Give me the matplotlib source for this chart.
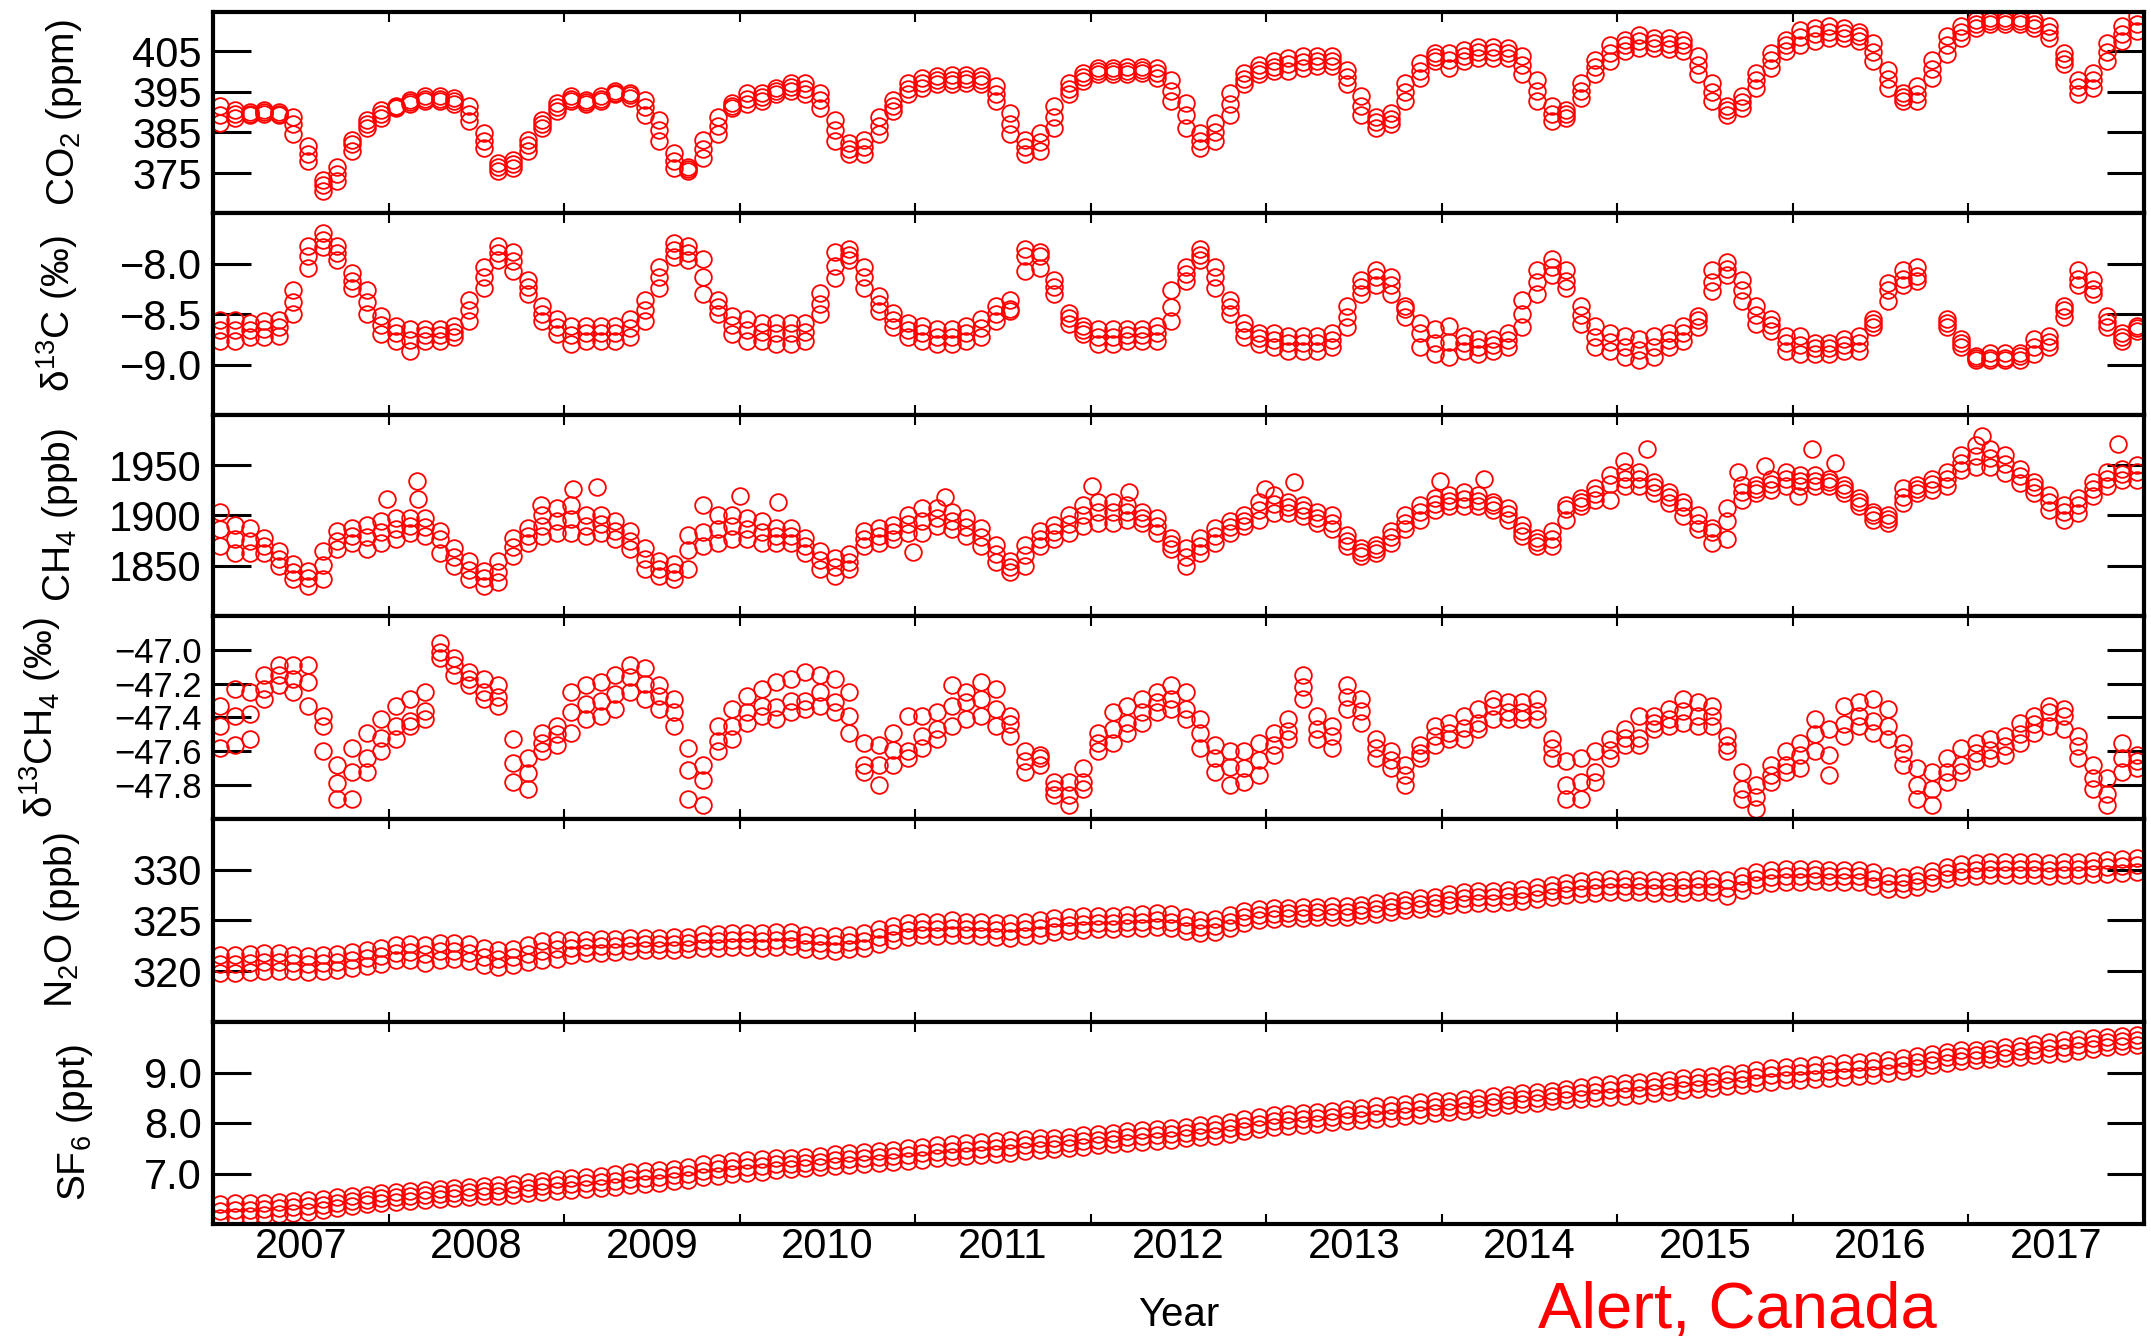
import numpy as np
import matplotlib
matplotlib.use("Agg")
import matplotlib.pyplot as plt
from matplotlib.ticker import FuncFormatter

plt.rcParams["font.family"] = ["Liberation Sans", "DejaVu Sans"]
plt.rcParams["mathtext.fontset"] = "custom"
plt.rcParams["mathtext.rm"] = "Liberation Sans"
plt.rcParams["mathtext.it"] = "Liberation Sans:italic"

# monthly readings, Jan 2007 .. Dec 2017 (upper edge / middle / lower edge of the point cloud)
years = np.arange(2007, 2018)
t = (years[:, None] + (np.arange(12) + 0.5) / 12).ravel()

co2_hi = [391.4, 390.6, 390.0, 390.4, 389.9, 388.9, 381.6, 373.4, 376.6, 383.2, 388.1, 390.6,
          391.5, 393.0, 393.9, 393.9, 393.4, 391.4, 384.8, 377.5, 378.3, 383.2, 388.1, 392.2,
          393.9, 393.0, 393.9, 395.1, 394.7, 393.0, 388.1, 379.9, 376.6, 383.2, 388.9, 392.2,
          394.7, 394.7, 395.9, 397.1, 397.1, 394.7, 388.1, 382.4, 383.2, 388.9, 393.0, 397.1,
          398.4, 398.8, 399.2, 399.2, 398.8, 396.3, 389.8, 383.2, 384.8, 391.4, 397.1, 399.6,
          400.8, 400.8, 401.2, 401.2, 400.8, 398.0, 392.2, 384.8, 387.3, 394.7, 399.6, 401.6,
          402.5, 403.3, 403.7, 403.7, 403.7, 400.4, 393.9, 388.9, 389.8, 397.1, 402.0, 404.5,
          404.5, 405.3, 406.1, 406.1, 405.7, 403.7, 398.0, 391.4, 390.6, 397.1, 402.9, 406.6,
          407.8, 409.0, 408.2, 408.2, 407.8, 403.7, 397.1, 391.4, 393.9, 399.6, 404.5, 407.8,
          410.2, 410.7, 411.1, 410.7, 409.8, 407.0, 400.4, 394.7, 396.3, 402.9, 408.6, 411.1,
          412.7, 413.1, 413.1, 413.1, 412.7, 411.1, 404.5, 398.0, 399.6, 407.0, 411.1, 413.5]
co2_mid = [389.4, 389.6, 389.6, 390.0, 389.6, 387.1, 379.8, 372.0, 374.8, 382.2, 387.1, 389.6,
           391.2, 392.5, 393.3, 393.3, 392.7, 389.6, 383.0, 376.5, 377.3, 381.8, 387.1, 391.2,
           393.3, 392.5, 393.3, 394.7, 394.1, 391.2, 385.5, 378.1, 376.1, 381.0, 386.7, 391.6,
           393.3, 393.7, 395.2, 396.1, 395.7, 392.9, 385.5, 381.0, 381.4, 386.7, 391.6, 395.7,
           397.1, 397.8, 398.0, 398.2, 397.8, 394.5, 387.1, 381.4, 382.6, 388.8, 395.7, 398.6,
           400.1, 400.1, 400.2, 400.4, 399.6, 395.3, 389.2, 383.0, 385.1, 392.0, 398.2, 400.4,
           401.2, 401.7, 402.3, 402.5, 402.5, 398.6, 391.6, 387.5, 388.4, 394.9, 400.2, 403.5,
           402.7, 403.9, 404.8, 404.8, 404.6, 401.5, 395.3, 389.6, 389.6, 395.3, 401.1, 404.5,
           406.4, 407.5, 407.0, 406.8, 406.4, 401.5, 394.9, 390.4, 392.5, 397.8, 402.7, 406.4,
           408.4, 409.1, 409.7, 409.4, 408.6, 404.8, 398.2, 393.7, 394.5, 400.7, 406.4, 409.7,
           411.7, 412.4, 412.4, 412.4, 411.7, 409.7, 403.1, 396.1, 397.8, 404.8, 409.3, 411.7]
co2_lo = [387.4, 388.6, 389.2, 389.6, 389.3, 384.5, 378.0, 370.6, 373.0, 380.4, 386.1, 388.6,
          390.9, 391.9, 392.7, 392.7, 391.9, 387.8, 381.2, 375.5, 376.3, 380.4, 386.1, 390.3,
          392.7, 391.9, 392.7, 394.4, 393.5, 389.4, 382.9, 376.3, 375.5, 378.8, 384.5, 391.1,
          391.9, 392.7, 394.4, 395.2, 394.4, 391.1, 382.9, 379.6, 379.6, 384.5, 390.3, 394.4,
          396.0, 396.8, 396.8, 397.2, 396.8, 392.7, 384.5, 379.6, 380.4, 386.1, 394.4, 397.6,
          399.3, 399.3, 399.3, 399.7, 398.4, 392.7, 386.1, 381.2, 382.9, 389.4, 396.8, 399.3,
          400.1, 400.1, 400.9, 401.3, 401.3, 396.8, 389.4, 386.1, 387.0, 392.7, 398.4, 402.5,
          400.9, 402.5, 403.4, 403.4, 403.4, 399.3, 392.7, 387.8, 388.6, 393.5, 399.3, 402.5,
          405.0, 405.8, 405.8, 405.4, 405.0, 399.3, 392.7, 389.4, 391.1, 396.0, 400.9, 405.0,
          406.6, 407.5, 408.3, 408.3, 407.5, 402.5, 396.0, 392.7, 392.7, 398.4, 404.2, 408.3,
          410.7, 411.6, 411.6, 411.6, 410.7, 408.3, 401.7, 394.4, 396.0, 402.5, 407.5, 409.9]

d13c_hi = [-8.56, -8.56, -8.59, -8.57, -8.56, -8.26, -7.83, -7.70, -7.83, -8.09, -8.26, -8.52,
           -8.62, -8.65, -8.65, -8.65, -8.62, -8.36, -8.03, -7.83, -7.89, -8.16, -8.42, -8.55,
           -8.62, -8.62, -8.62, -8.62, -8.55, -8.36, -8.03, -7.80, -7.83, -7.96, -8.36, -8.52,
           -8.55, -8.59, -8.59, -8.59, -8.59, -8.29, -7.89, -7.86, -8.03, -8.32, -8.49, -8.59,
           -8.62, -8.65, -8.65, -8.62, -8.55, -8.42, -8.36, -7.86, -7.89, -8.16, -8.49, -8.62,
           -8.65, -8.65, -8.65, -8.65, -8.62, -8.26, -8.03, -7.86, -8.03, -8.36, -8.59, -8.69,
           -8.69, -8.72, -8.72, -8.72, -8.69, -8.42, -8.16, -8.06, -8.13, -8.42, -8.59, -8.65,
           -8.62, -8.72, -8.75, -8.75, -8.69, -8.36, -8.06, -7.96, -8.06, -8.42, -8.62, -8.69,
           -8.72, -8.75, -8.72, -8.69, -8.62, -8.52, -8.06, -7.99, -8.16, -8.42, -8.55, -8.72,
           -8.72, -8.79, -8.79, -8.75, -8.72, -8.55, -8.19, -8.06, -8.03, np.nan, -8.55, -8.75,
           -8.92, -8.89, -8.89, -8.89, -8.75, -8.72, -8.42, -8.06, -8.16, -8.52, -8.69, -8.62]
d13c_mid = [-8.66, -8.66, -8.66, -8.65, -8.63, -8.38, -7.93, -7.77, -7.90, -8.17, -8.38, -8.61,
            -8.69, -8.76, -8.71, -8.71, -8.68, -8.46, -8.13, -7.90, -7.98, -8.23, -8.50, -8.63,
            -8.71, -8.69, -8.69, -8.69, -8.64, -8.46, -8.13, -7.87, -7.90, -8.13, -8.43, -8.61,
            -8.66, -8.68, -8.69, -8.69, -8.68, -8.40, -8.02, -7.92, -8.13, -8.40, -8.56, -8.66,
            -8.69, -8.73, -8.73, -8.69, -8.64, -8.50, -8.45, -7.93, -7.93, -8.23, -8.54, -8.66,
            -8.73, -8.73, -8.71, -8.71, -8.69, -8.43, -8.10, -7.92, -8.13, -8.43, -8.66, -8.74,
            -8.76, -8.79, -8.79, -8.79, -8.76, -8.53, -8.23, -8.13, -8.21, -8.45, -8.69, -8.79,
            -8.78, -8.79, -8.83, -8.81, -8.76, -8.50, -8.18, -8.03, -8.17, -8.51, -8.73, -8.78,
            -8.83, -8.86, -8.83, -8.76, -8.69, -8.56, -8.18, -8.05, -8.26, -8.51, -8.61, -8.79,
            -8.81, -8.84, -8.84, -8.81, -8.79, -8.59, -8.26, -8.15, -8.12, np.nan, -8.59, -8.79,
            -8.94, -8.94, -8.94, -8.92, -8.83, -8.78, -8.46, -8.15, -8.25, -8.58, -8.73, -8.64]
d13c_lo = [-8.77, -8.77, -8.73, -8.73, -8.72, -8.50, -8.04, -7.84, -7.97, -8.24, -8.50, -8.70,
           -8.77, -8.87, -8.77, -8.77, -8.73, -8.57, -8.24, -7.97, -8.07, -8.30, -8.57, -8.70,
           -8.80, -8.77, -8.77, -8.77, -8.73, -8.57, -8.24, -7.94, -7.97, -8.30, -8.50, -8.70,
           -8.77, -8.77, -8.80, -8.80, -8.77, -8.50, -8.14, -7.97, -8.24, -8.47, -8.63, -8.73,
           -8.77, -8.80, -8.80, -8.77, -8.73, -8.57, -8.47, -8.07, -8.04, -8.30, -8.60, -8.70,
           -8.80, -8.80, -8.77, -8.77, -8.77, -8.57, -8.17, -7.97, -8.24, -8.50, -8.73, -8.80,
           -8.83, -8.87, -8.87, -8.87, -8.83, -8.63, -8.30, -8.21, -8.30, -8.53, -8.83, -8.90,
           -8.93, -8.87, -8.90, -8.87, -8.83, -8.63, -8.30, -8.11, -8.24, -8.60, -8.83, -8.87,
           -8.93, -8.96, -8.93, -8.83, -8.77, -8.63, -8.27, -8.11, -8.37, -8.60, -8.67, -8.87,
           -8.90, -8.90, -8.90, -8.87, -8.87, -8.63, -8.37, -8.21, -8.17, np.nan, -8.63, -8.83,
           -8.96, -8.96, -8.96, -8.96, -8.90, -8.83, -8.53, -8.21, -8.30, -8.63, -8.77, -8.67]

ch4_hi = [1903.9, 1890.8, 1887.5, 1877.6, 1864.5, 1851.3, 1844.7, 1864.5, 1884.2, 1887.5, 1890.8, 1894.1,
          1897.3, 1897.3, 1897.3, 1884.2, 1867.8, 1854.6, 1844.7, 1854.6, 1877.6, 1887.5, 1900.6, 1907.2,
          1910.5, 1900.6, 1900.6, 1894.1, 1884.2, 1867.8, 1854.6, 1851.3, 1880.9, 1910.5, 1900.6, 1900.6,
          1897.3, 1894.1, 1887.5, 1887.5, 1877.6, 1864.5, 1857.9, 1861.2, 1884.2, 1887.5, 1890.8, 1900.6,
          1907.2, 1907.2, 1903.9, 1897.3, 1887.5, 1871.0, 1854.6, 1871.0, 1884.2, 1890.8, 1900.6, 1910.5,
          1913.8, 1913.8, 1910.5, 1903.9, 1897.3, 1877.6, 1867.8, 1877.6, 1887.5, 1894.1, 1900.6, 1913.8,
          1920.4, 1913.8, 1910.5, 1903.9, 1900.6, 1880.9, 1867.8, 1871.0, 1884.2, 1900.6, 1910.5, 1917.1,
          1920.4, 1923.7, 1920.4, 1913.8, 1907.2, 1890.8, 1877.6, 1884.2, 1910.5, 1917.1, 1927.0, 1940.1,
          1943.4, 1943.4, 1933.5, 1923.7, 1913.8, 1900.6, 1887.5, 1907.2, 1930.2, 1930.2, 1936.8, 1943.4,
          1940.1, 1940.1, 1936.8, 1930.2, 1917.1, 1903.9, 1900.6, 1927.0, 1930.2, 1936.8, 1943.4, 1959.9,
          1969.7, 1966.4, 1959.9, 1946.7, 1933.5, 1920.4, 1910.5, 1917.1, 1933.5, 1943.4, 1946.7, 1950.0]
ch4_mid = [1887.0, 1877.0, 1875.0, 1870.0, 1857.0, 1844.0, 1837.5, 1851.0, 1875.0, 1880.0, 1879.0, 1883.5,
           1887.0, 1890.0, 1888.5, 1877.0, 1859.0, 1845.7, 1837.5, 1844.0, 1868.8, 1880.0, 1890.0, 1895.0,
           1896.7, 1890.0, 1891.8, 1885.0, 1875.0, 1857.0, 1847.0, 1844.0, 1865.5, 1883.5, 1887.0, 1890.0,
           1887.0, 1883.5, 1880.0, 1880.0, 1870.0, 1855.6, 1849.0, 1854.0, 1877.0, 1880.0, 1883.5, 1891.8,
           1895.0, 1898.0, 1895.0, 1888.5, 1878.6, 1862.0, 1849.0, 1860.5, 1877.0, 1883.5, 1891.8, 1900.0,
           1903.3, 1903.3, 1903.3, 1898.0, 1890.0, 1872.0, 1859.0, 1870.0, 1880.0, 1888.5, 1895.0, 1905.0,
           1911.5, 1908.0, 1905.0, 1898.0, 1893.0, 1875.0, 1864.0, 1867.0, 1878.6, 1893.0, 1903.3, 1911.5,
           1914.8, 1916.4, 1914.8, 1910.0, 1901.6, 1885.0, 1873.7, 1877.0, 1906.6, 1913.0, 1921.0, 1931.0,
           1936.0, 1936.0, 1928.0, 1918.0, 1908.0, 1893.0, 1883.5, 1895.0, 1923.0, 1926.0, 1931.0, 1936.0,
           1934.5, 1934.5, 1933.0, 1926.0, 1913.0, 1900.0, 1896.7, 1918.0, 1926.0, 1931.0, 1936.0, 1952.6,
           1959.0, 1957.6, 1951.0, 1939.5, 1928.0, 1913.0, 1903.3, 1910.0, 1926.0, 1936.0, 1941.0, 1943.0]
ch4_lo = [1869.7, 1863.1, 1863.1, 1863.1, 1850.0, 1836.8, 1830.3, 1836.8, 1866.4, 1873.0, 1866.4, 1873.0,
          1876.3, 1882.9, 1879.6, 1863.1, 1850.0, 1836.8, 1830.3, 1833.5, 1859.9, 1873.0, 1879.6, 1883.0,
          1883.0, 1879.6, 1883.0, 1876.3, 1866.4, 1846.7, 1840.1, 1836.8, 1846.7, 1869.7, 1873.0, 1876.3,
          1876.3, 1873.0, 1873.0, 1873.0, 1863.1, 1846.7, 1840.1, 1846.7, 1869.7, 1873.0, 1876.3, 1883.0,
          1883.0, 1889.5, 1886.2, 1879.6, 1869.7, 1853.3, 1843.4, 1850.0, 1869.7, 1876.3, 1883.0, 1889.5,
          1892.8, 1892.8, 1896.0, 1892.8, 1883.0, 1866.4, 1850.0, 1863.1, 1873.0, 1883.0, 1889.5, 1896.0,
          1902.6, 1902.6, 1899.3, 1892.8, 1886.2, 1869.7, 1859.9, 1863.1, 1873.0, 1886.2, 1896.0, 1905.9,
          1909.2, 1909.2, 1909.2, 1905.9, 1896.0, 1879.6, 1869.7, 1869.7, 1896.0, 1909.2, 1915.8, 1915.8,
          1928.9, 1928.9, 1922.4, 1912.5, 1899.3, 1886.2, 1873.0, 1876.3, 1915.8, 1922.4, 1925.7, 1928.9,
          1928.9, 1928.9, 1928.9, 1922.4, 1909.2, 1896.0, 1892.8, 1912.5, 1922.4, 1925.7, 1928.9, 1945.4,
          1948.7, 1948.7, 1942.1, 1932.2, 1922.4, 1905.9, 1896.0, 1902.6, 1919.1, 1928.9, 1935.5, 1935.5]
# isolated CH4 points away from the main cloud
ch4_out_t = [2007.99, 2008.16, 2008.17, 2008.87, 2009.05, 2009.19, 2010.00, 2010.22, 2010.99,
             2011.17, 2012.01, 2012.22, 2012.99, 2013.16, 2013.99, 2014.24, 2015.04, 2015.17,
             2015.69, 2015.84, 2016.03, 2016.11, 2016.24, 2017.08, 2017.85]
ch4_out = [1916.4, 1934.5, 1916.0, 1910.0, 1926.3, 1928.0, 1919.7, 1913.0, 1863.8,
           1918.0, 1929.6, 1923.0, 1926.0, 1933.0, 1934.5, 1936.0, 1954.0, 1965.8,
           1942.8, 1949.0, 1919.7, 1965.8, 1952.6, 1979.0, 1970.7]

d13ch4_hi = [-47.33, -47.23, -47.25, -47.15, -47.09, -47.09, -47.09, -47.39, -47.68, -47.58, -47.49, -47.41,
             -47.33, -47.29, -47.25, -46.96, -47.05, -47.13, -47.17, -47.21, -47.53, -47.64, -47.49, -47.45,
             -47.25, -47.21, -47.19, -47.15, -47.09, -47.11, -47.21, -47.29, -47.58, -47.68, -47.45, -47.35,
             -47.27, -47.23, -47.19, -47.17, -47.13, -47.15, -47.17, -47.25, -47.55, -47.56, -47.49, -47.39,
             -47.39, -47.37, -47.21, -47.25, -47.19, -47.23, -47.39, -47.60, -47.62, -47.78, -47.78, -47.70,
             -47.49, -47.37, -47.33, -47.29, -47.25, -47.21, -47.25, -47.41, -47.56, -47.60, -47.60, -47.55,
             -47.49, -47.41, -47.15, -47.39, -47.45, -47.21, -47.29, -47.53, -47.60, -47.68, -47.56, -47.45,
             -47.43, -47.39, -47.35, -47.29, -47.31, -47.31, -47.29, -47.53, -47.66, -47.64, -47.60, -47.53,
             -47.47, -47.39, -47.39, -47.35, -47.29, -47.31, -47.33, -47.51, -47.72, -47.80, -47.68, -47.60,
             -47.55, -47.41, -47.47, -47.33, -47.31, -47.29, -47.35, -47.55, -47.70, -47.72, -47.64, -47.58,
             -47.55, -47.53, -47.51, -47.43, -47.39, -47.33, -47.35, -47.51, -47.68, -47.76, -47.55, -47.62]
d13ch4_mid = [-47.45, -47.39, -47.38, -47.23, -47.15, -47.17, -47.19, -47.45, -47.79, -47.72, -47.64, -47.52,
              -47.45, -47.42, -47.36, -47.01, -47.09, -47.17, -47.25, -47.28, -47.67, -47.73, -47.55, -47.50,
              -47.37, -47.32, -47.30, -47.26, -47.16, -47.20, -47.27, -47.37, -47.71, -47.77, -47.54, -47.45,
              -47.37, -47.33, -47.34, -47.30, -47.30, -47.25, -47.31, -47.39, -47.68, -47.68, -47.59, -47.60,
              -47.51, -47.47, -47.33, -47.31, -47.29, -47.35, -47.44, -47.66, -47.64, -47.82, -47.86, -47.78,
              -47.55, -47.47, -47.43, -47.37, -47.31, -47.29, -47.35, -47.49, -47.64, -47.69, -47.70, -47.65,
              -47.56, -47.48, -47.22, -47.47, -47.51, -47.28, -47.36, -47.58, -47.65, -47.74, -47.61, -47.51,
              -47.49, -47.46, -47.43, -47.33, -47.37, -47.37, -47.36, -47.58, -47.80, -47.78, -47.72, -47.59,
              -47.52, -47.52, -47.43, -47.41, -47.36, -47.39, -47.39, -47.56, -47.82, -47.87, -47.74, -47.68,
              -47.62, -47.50, -47.62, -47.44, -47.39, -47.42, -47.45, -47.61, -47.80, -47.82, -47.72, -47.68,
              -47.61, -47.59, -47.57, -47.50, -47.44, -47.37, -47.39, -47.57, -47.76, -47.85, -47.64, -47.66]
d13ch4_lo = [-47.58, -47.56, -47.53, -47.29, -47.21, -47.25, -47.33, -47.60, -47.88, -47.88, -47.72, -47.60,
             -47.53, -47.45, -47.41, -47.05, -47.15, -47.21, -47.29, -47.33, -47.78, -47.82, -47.60, -47.56,
             -47.49, -47.41, -47.39, -47.35, -47.25, -47.29, -47.35, -47.45, -47.88, -47.92, -47.60, -47.53,
             -47.43, -47.39, -47.41, -47.37, -47.35, -47.33, -47.37, -47.49, -47.72, -47.80, -47.68, -47.64,
             -47.58, -47.53, -47.45, -47.41, -47.39, -47.45, -47.51, -47.72, -47.68, -47.86, -47.92, -47.82,
             -47.60, -47.55, -47.49, -47.43, -47.37, -47.35, -47.41, -47.58, -47.72, -47.80, -47.78, -47.74,
             -47.62, -47.53, -47.29, -47.53, -47.58, -47.35, -47.43, -47.64, -47.70, -47.80, -47.64, -47.56,
             -47.53, -47.53, -47.47, -47.41, -47.41, -47.41, -47.41, -47.64, -47.88, -47.88, -47.78, -47.64,
             -47.56, -47.56, -47.47, -47.45, -47.43, -47.45, -47.45, -47.60, -47.88, -47.94, -47.78, -47.72,
             -47.70, -47.60, -47.74, -47.51, -47.45, -47.49, -47.53, -47.68, -47.88, -47.92, -47.78, -47.72,
             -47.66, -47.64, -47.62, -47.55, -47.49, -47.45, -47.47, -47.64, -47.82, -47.92, -47.72, -47.70]

n2o_hi = [321.6, 321.6, 321.7, 321.8, 321.8, 321.6, 321.5, 321.6, 321.7, 321.9, 322.1, 322.3,
          322.6, 322.7, 322.6, 322.8, 322.8, 322.7, 322.3, 322.1, 322.2, 322.6, 323.0, 323.1,
          323.1, 323.1, 323.2, 323.2, 323.3, 323.3, 323.3, 323.4, 323.4, 323.7, 323.7, 323.8,
          323.8, 323.8, 323.9, 323.9, 323.6, 323.5, 323.5, 323.6, 323.8, 324.2, 324.5, 324.8,
          324.9, 324.9, 325.0, 324.9, 324.9, 324.8, 324.8, 324.9, 325.0, 325.2, 325.3, 325.4,
          325.4, 325.4, 325.5, 325.6, 325.7, 325.6, 325.3, 325.0, 325.1, 325.5, 325.9, 326.1,
          326.2, 326.2, 326.3, 326.3, 326.4, 326.4, 326.5, 326.7, 326.9, 327.0, 327.2, 327.3,
          327.6, 327.8, 327.9, 327.9, 328.0, 328.1, 328.3, 328.5, 328.7, 328.9, 329.0, 329.1,
          329.1, 329.0, 329.0, 328.9, 329.0, 329.1, 329.1, 329.0, 329.4, 329.8, 330.0, 330.1,
          330.1, 330.1, 330.0, 330.0, 330.0, 329.8, 329.4, 329.3, 329.5, 329.9, 330.3, 330.6,
          330.7, 330.8, 330.8, 330.8, 330.8, 330.7, 330.8, 330.8, 330.9, 331.0, 331.1, 331.2]
n2o_mid = [320.7, 320.7, 320.8, 320.9, 320.9, 320.8, 320.7, 320.8, 320.9, 321.1, 321.3, 321.5,
           321.8, 321.9, 321.7, 322.0, 322.0, 321.8, 321.4, 321.2, 321.4, 321.7, 322.0, 322.2,
           322.3, 322.4, 322.5, 322.5, 322.6, 322.7, 322.7, 322.7, 322.8, 323.0, 323.0, 323.1,
           323.1, 323.0, 323.1, 323.2, 322.9, 322.8, 322.7, 322.9, 323.0, 323.4, 323.8, 324.1,
           324.2, 324.2, 324.3, 324.2, 324.2, 324.1, 324.0, 324.2, 324.3, 324.5, 324.6, 324.7,
           324.8, 324.8, 324.9, 324.9, 325.0, 324.9, 324.6, 324.4, 324.5, 324.9, 325.3, 325.5,
           325.6, 325.7, 325.7, 325.8, 325.8, 325.8, 326.0, 326.1, 326.3, 326.5, 326.6, 326.7,
           327.0, 327.2, 327.3, 327.3, 327.4, 327.5, 327.7, 327.9, 328.1, 328.2, 328.3, 328.4,
           328.4, 328.4, 328.3, 328.3, 328.3, 328.4, 328.4, 328.2, 328.7, 329.1, 329.3, 329.4,
           329.4, 329.5, 329.4, 329.4, 329.4, 329.1, 328.7, 328.7, 328.9, 329.3, 329.7, 329.9,
           330.0, 330.1, 330.1, 330.1, 330.1, 330.0, 330.1, 330.1, 330.2, 330.3, 330.4, 330.5]
n2o_lo = [319.8, 319.8, 319.9, 320.0, 320.0, 320.0, 319.9, 320.0, 320.1, 320.3, 320.5, 320.7,
          321.1, 321.1, 320.8, 321.1, 321.2, 321.0, 320.6, 320.4, 320.6, 320.9, 321.1, 321.2,
          321.6, 321.8, 321.8, 321.9, 322.0, 322.1, 322.1, 322.1, 322.2, 322.3, 322.3, 322.4,
          322.4, 322.3, 322.4, 322.5, 322.2, 322.1, 322.0, 322.2, 322.3, 322.7, 323.1, 323.4,
          323.6, 323.5, 323.6, 323.6, 323.5, 323.4, 323.3, 323.5, 323.6, 323.9, 324.0, 324.1,
          324.2, 324.2, 324.3, 324.3, 324.4, 324.3, 324.0, 323.8, 323.9, 324.3, 324.8, 325.0,
          325.1, 325.2, 325.2, 325.3, 325.3, 325.3, 325.5, 325.6, 325.8, 326.0, 326.1, 326.2,
          326.5, 326.6, 326.7, 326.7, 326.8, 326.9, 327.1, 327.3, 327.5, 327.6, 327.7, 327.8,
          327.8, 327.8, 327.7, 327.7, 327.7, 327.8, 327.8, 327.4, 328.0, 328.5, 328.7, 328.8,
          328.8, 328.9, 328.8, 328.8, 328.8, 328.4, 328.1, 328.1, 328.3, 328.7, 329.1, 329.3,
          329.4, 329.5, 329.5, 329.5, 329.5, 329.4, 329.5, 329.5, 329.6, 329.6, 329.7, 329.8]

sf6_hi = [6.40, 6.41, 6.42, 6.42, 6.43, 6.45, 6.47, 6.50, 6.53, 6.55, 6.58, 6.61,
          6.63, 6.65, 6.67, 6.70, 6.72, 6.74, 6.75, 6.77, 6.80, 6.83, 6.86, 6.89,
          6.91, 6.93, 6.96, 6.99, 7.02, 7.04, 7.06, 7.09, 7.13, 7.18, 7.21, 7.24,
          7.26, 7.28, 7.30, 7.31, 7.33, 7.35, 7.38, 7.40, 7.43, 7.44, 7.47, 7.50,
          7.53, 7.56, 7.59, 7.61, 7.62, 7.64, 7.66, 7.68, 7.70, 7.71, 7.73, 7.76,
          7.79, 7.81, 7.84, 7.86, 7.88, 7.90, 7.93, 7.96, 7.98, 8.02, 8.07, 8.11,
          8.15, 8.18, 8.20, 8.22, 8.24, 8.27, 8.30, 8.33, 8.36, 8.38, 8.41, 8.44,
          8.44, 8.47, 8.50, 8.53, 8.56, 8.59, 8.61, 8.64, 8.68, 8.72, 8.75, 8.78,
          8.80, 8.82, 8.84, 8.86, 8.89, 8.92, 8.94, 8.97, 9.00, 9.04, 9.08, 9.11,
          9.12, 9.14, 9.16, 9.18, 9.20, 9.22, 9.25, 9.28, 9.32, 9.37, 9.41, 9.44,
          9.45, 9.47, 9.50, 9.53, 9.57, 9.61, 9.64, 9.66, 9.68, 9.70, 9.72, 9.74]
sf6_mid = [6.26, 6.27, 6.28, 6.30, 6.31, 6.33, 6.35, 6.38, 6.42, 6.45, 6.48, 6.51,
           6.53, 6.55, 6.57, 6.59, 6.61, 6.63, 6.65, 6.66, 6.69, 6.72, 6.75, 6.77,
           6.79, 6.81, 6.84, 6.86, 6.89, 6.91, 6.94, 6.97, 7.00, 7.05, 7.08, 7.11,
           7.13, 7.15, 7.18, 7.19, 7.21, 7.23, 7.26, 7.28, 7.31, 7.32, 7.35, 7.37,
           7.40, 7.43, 7.45, 7.47, 7.49, 7.51, 7.53, 7.56, 7.58, 7.59, 7.61, 7.64,
           7.67, 7.69, 7.72, 7.74, 7.76, 7.78, 7.81, 7.84, 7.86, 7.90, 7.95, 7.99,
           8.03, 8.06, 8.08, 8.10, 8.12, 8.15, 8.18, 8.20, 8.23, 8.25, 8.28, 8.31,
           8.32, 8.35, 8.38, 8.42, 8.45, 8.48, 8.50, 8.53, 8.57, 8.60, 8.62, 8.65,
           8.67, 8.69, 8.71, 8.74, 8.77, 8.80, 8.82, 8.85, 8.88, 8.91, 8.95, 8.98,
           8.99, 9.01, 9.03, 9.05, 9.07, 9.09, 9.12, 9.15, 9.20, 9.25, 9.30, 9.33,
           9.35, 9.37, 9.39, 9.42, 9.45, 9.49, 9.51, 9.54, 9.57, 9.60, 9.62, 9.64]
sf6_lo = [6.12, 6.13, 6.15, 6.17, 6.19, 6.21, 6.23, 6.27, 6.32, 6.36, 6.39, 6.42,
          6.44, 6.45, 6.47, 6.49, 6.51, 6.53, 6.55, 6.56, 6.58, 6.61, 6.64, 6.66,
          6.68, 6.70, 6.72, 6.74, 6.77, 6.79, 6.82, 6.85, 6.88, 6.93, 6.96, 6.99,
          7.01, 7.03, 7.06, 7.08, 7.10, 7.12, 7.15, 7.17, 7.19, 7.21, 7.23, 7.25,
          7.27, 7.30, 7.32, 7.34, 7.36, 7.38, 7.41, 7.44, 7.46, 7.48, 7.50, 7.53,
          7.56, 7.58, 7.61, 7.63, 7.65, 7.67, 7.70, 7.73, 7.75, 7.79, 7.84, 7.88,
          7.92, 7.95, 7.97, 7.99, 8.01, 8.03, 8.06, 8.08, 8.10, 8.13, 8.16, 8.19,
          8.21, 8.24, 8.27, 8.31, 8.35, 8.38, 8.40, 8.43, 8.46, 8.48, 8.50, 8.52,
          8.54, 8.56, 8.59, 8.62, 8.65, 8.68, 8.70, 8.73, 8.76, 8.79, 8.82, 8.85,
          8.86, 8.88, 8.90, 8.92, 8.94, 8.96, 8.99, 9.03, 9.08, 9.14, 9.19, 9.23,
          9.25, 9.27, 9.29, 9.31, 9.34, 9.37, 9.39, 9.42, 9.46, 9.50, 9.53, 9.55]

# (series, label, y-range, ticks, tick format, tick label size, label centre in px)
panels = [
    ((co2_hi, co2_mid, co2_lo), "CO$_2$ (ppm)", (365.2, 414.6), [375, 385, 395, 405], "%d", 30, 64),
    ((d13c_hi, d13c_mid, d13c_lo), "δ$^{13}$C (‰)", (-9.5, -7.5), [-9.0, -8.5, -8.0], "%.1f", 30, 57),
    ((ch4_hi, ch4_mid, ch4_lo), "CH$_4$ (ppb)", (1800, 2000), [1850, 1900, 1950], "%d", 30, 60),
    ((d13ch4_hi, d13ch4_mid, d13ch4_lo), "δ$^{13}$CH$_4$ (‰)", (-48.0, -46.8),
     [-47.8, -47.6, -47.4, -47.2, -47.0], "%.1f", 25, 40),
    ((n2o_hi, n2o_mid, n2o_lo), "N$_2$O (ppb)", (315, 335), [320, 325, 330], "%d", 30, 62),
    ((sf6_hi, sf6_mid, sf6_lo), "SF$_6$ (ppt)", (6.0, 10.0), [7.0, 8.0, 9.0], "%.1f", 30, 75),
]

W, H = 2151, 1336
left, right = 213, 2144
edges = [12, 213, 415, 616, 819, 1022, 1224]
red = "#ff0000"
mstyle = dict(ls="none", marker="o", ms=12, mfc="none", mec=red, mew=1.3)

fig = plt.figure(figsize=(W / 100, H / 100), dpi=100)
axes = []
for i, (series, label, ylim, yt, fmt, tsize, xlab) in enumerate(panels):
    ax = fig.add_axes([left / W, 1 - edges[i + 1] / H, (right - left) / W,
                       (edges[i + 1] - edges[i]) / H])
    for s in series:
        ax.plot(t, s, **mstyle)
    if i == 2:
        ax.plot(ch4_out_t, ch4_out, **mstyle)
    ax.set_xlim(2007, 2018)
    ax.set_ylim(*ylim)
    ax.set_xticks(np.arange(2007, 2019))
    ax.tick_params(axis="x", which="major", direction="in", length=7, width=1.5,
                   top=True, bottom=True, labelbottom=False)
    ax.set_yticks(yt)
    ax.yaxis.set_major_formatter(
        FuncFormatter(lambda v, p, f=fmt: (f % v).replace("-", "\u2212")))
    ax.tick_params(axis="y", direction="in", length=27, width=2.2, left=True,
                   right=True, labelsize=tsize, pad=8)
    for sp in ax.spines.values():
        sp.set_linewidth(3)
    ax.set_ylabel(label, fontsize=28, va="center")
    ax.yaxis.set_label_coords((xlab - left) / (right - left), 0.5)
    axes.append(ax)

bottom = axes[-1]
bottom.set_xticks(np.arange(2007.5, 2018), minor=True)
bottom.set_xticklabels([str(y) for y in years], minor=True)
bottom.tick_params(axis="x", which="minor", length=0, labelsize=30, pad=2,
                   labelbottom=True)
bottom.set_xlabel("Year", fontsize=29, va="center")
bottom.xaxis.set_label_coords(0.5, -(1315 - 1224) / (1224 - 1022))

fig.text(1737 / W, 1 - 1327 / H, "Alert, Canada", color=red, fontsize=47,
         ha="center", va="baseline")

fig.savefig("out.png", dpi=100)
